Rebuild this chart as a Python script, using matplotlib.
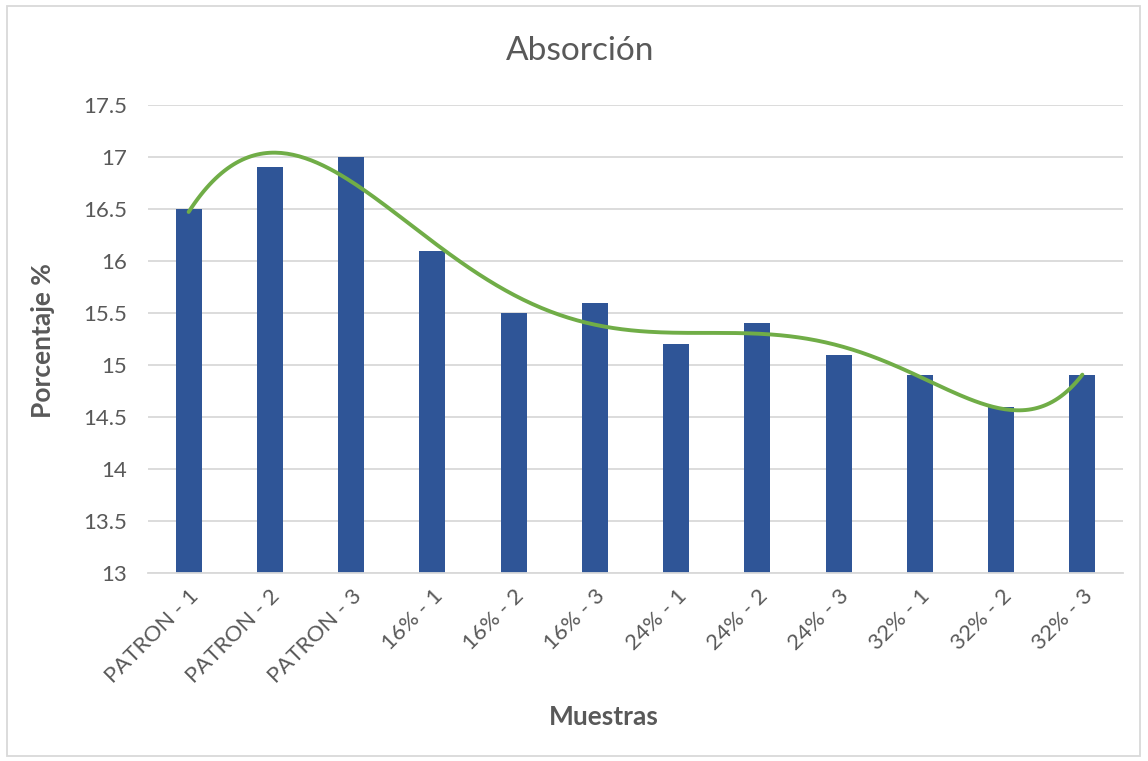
import numpy as np
import matplotlib
matplotlib.use("Agg")
import matplotlib.pyplot as plt
from matplotlib.patches import Rectangle

muestras = ['PATRON - 1', 'PATRON - 2', 'PATRON - 3',
            '16% - 1', '16% - 2', '16% - 3',
            '24% - 1', '24% - 2', '24% - 3',
            '32% - 1', '32% - 2', '32% - 3']
absorcion = [16.5, 16.9, 17.0, 16.1, 15.5, 15.6, 15.2, 15.4, 15.1, 14.9, 14.6, 14.9]
yticks = [13, 13.5, 14, 14.5, 15, 15.5, 16, 16.5, 17, 17.5]
ytick_labels = ['13', '13.5', '14', '14.5', '15', '15.5', '16', '16.5', '17', '17.5']

plt.rcParams['font.family'] = ['Lato', 'DejaVu Sans']
gray = '#595959'

fig = plt.figure(figsize=(11.48, 7.61), dpi=100)
ax = fig.add_axes([148 / 1148, 1 - 573 / 761, (1123 - 148) / 1148, (573 - 105) / 761])

x = np.arange(1, len(absorcion) + 1)
ax.bar(x, absorcion, width=0.32, color='#2F5597', zorder=2)

# polynomial trendline (order 6), like the spreadsheet one
coef = np.polyfit(x, absorcion, 6)
xs = np.linspace(1, len(absorcion), 300)
ax.plot(xs, np.polyval(coef, xs), color='#70AD47', lw=2.8, zorder=3,
        solid_capstyle='round')

ax.set_xlim(0.5, len(absorcion) + 0.5)
ax.set_ylim(13, 17.5)
ax.set_yticks(yticks)
ax.set_yticklabels(ytick_labels)
ax.set_xticks(x)
ax.set_xticklabels(muestras, rotation=45, ha='right', rotation_mode='anchor')
ax.tick_params(axis='both', length=0, colors=gray, labelsize=16)
ax.tick_params(axis='y', pad=15)
ax.tick_params(axis='x', pad=9)
ax.grid(axis='y', color='#D9D9D9', lw=1.3, zorder=0)
for s in ['top', 'right', 'left']:
    ax.spines[s].set_visible(False)
ax.spines['bottom'].set_color('#D9D9D9')
ax.spines['bottom'].set_linewidth(1.3)

fig.text(580 / 1148, 1 - 51 / 761, 'Absorción', ha='center', va='center',
         fontsize=24, color=gray)
fig.text(604 / 1148, 1 - 717 / 761, 'Muestras', ha='center', va='center',
         fontsize=19, fontweight='bold', color=gray)
fig.text(43 / 1148, 1 - 341 / 761, 'Porcentaje %', ha='center', va='center',
         rotation=90, fontsize=19, fontweight='bold', color=gray)

fig.patches.append(Rectangle((7 / 1148, 5 / 761), 1133 / 1148, 750 / 761,
                             transform=fig.transFigure, fill=False,
                             edgecolor='#D9D9D9', lw=1.3))

plt.savefig('out.png', dpi=100)
